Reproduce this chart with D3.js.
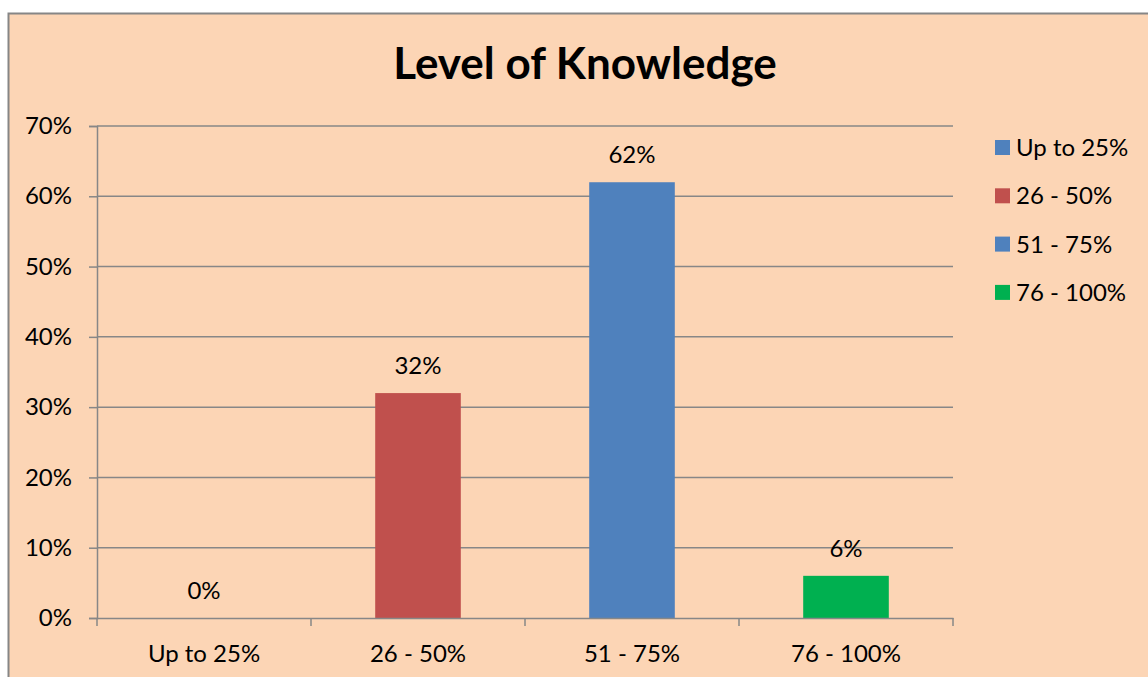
<!DOCTYPE html>
<html>
<head>
<meta charset="utf-8">
<script src="https://cdn.jsdelivr.net/npm/d3@7"></script>
<style>
  html, body { margin: 0; padding: 0; background: #ffffff; overflow: hidden; }
  svg { display: block; }
  text { font-family: Lato, "Open Sans", sans-serif; fill: #000; }
</style>
</head>
<body>
<svg id="chart" width="1148" height="677"></svg>
<script>
const categories = ["Up to 25%", "26 - 50%", "51 - 75%", "76 - 100%"];
const values = [0, 32, 62, 6];
const barColors = ["#4F81BD", "#C0504D", "#4F81BD", "#00B050"];
const yTicks = [0, 10, 20, 30, 40, 50, 60, 70];
const title = "Level of Knowledge";

const svg = d3.select("#chart");
const W = 1148, H = 677;

// chart area background + border
svg.append("rect")
  .attr("x", 8.5).attr("y", 13.5)
  .attr("width", W + 20).attr("height", H + 20)
  .attr("fill", "#FCD5B5")
  .attr("stroke", "#868686").attr("stroke-width", 2);

const plot = { left: 97, right: 953, top: 126, bottom: 618 };

const x = d3.scaleBand()
  .domain(categories)
  .range([plot.left, plot.right])
  .paddingInner(0.6)
  .paddingOuter(0.3);

const y = d3.scaleLinear()
  .domain([0, 70])
  .range([plot.bottom, plot.top]);

// gridlines
svg.append("g")
  .selectAll("line")
  .data(yTicks.filter(d => d > 0))
  .join("line")
  .attr("x1", plot.left).attr("x2", plot.right)
  .attr("y1", d => y(d)).attr("y2", d => y(d))
  .attr("stroke", "#878787").attr("stroke-width", 1.5);

// y axis
const yAxis = svg.append("g")
  .attr("transform", `translate(${plot.left},0)`)
  .call(d3.axisLeft(y).tickValues(yTicks).tickFormat(d => d + "%").tickSize(8).tickPadding(17));
yAxis.select(".domain").attr("stroke", "#878787").attr("stroke-width", 1.5);
yAxis.selectAll(".tick line").attr("stroke", "#878787").attr("stroke-width", 1.5);
yAxis.selectAll(".tick text")
  .style("font-family", "Lato, 'Open Sans', sans-serif")
  .style("font-size", "24px").attr("fill", "#000");

// bars
svg.append("g")
  .selectAll("rect")
  .data(values)
  .join("rect")
  .attr("x", (d, i) => x(categories[i]))
  .attr("y", d => y(d))
  .attr("width", x.bandwidth())
  .attr("height", d => y(0) - y(d))
  .attr("fill", (d, i) => barColors[i]);

// x axis
const xAxis = svg.append("g")
  .attr("transform", `translate(0,${plot.bottom})`)
  .call(d3.axisBottom(x).tickSize(0).tickPadding(27));
xAxis.select(".domain").attr("stroke", "#878787").attr("stroke-width", 1.5);
xAxis.selectAll(".tick text")
  .style("font-family", "Lato, 'Open Sans', sans-serif")
  .style("font-size", "24px").attr("fill", "#000");
// category boundary ticks
const bounds = d3.range(categories.length + 1).map(i => plot.left + i * x.step());
svg.append("g")
  .selectAll("line")
  .data(bounds)
  .join("line")
  .attr("x1", d => d).attr("x2", d => d)
  .attr("y1", plot.bottom).attr("y2", plot.bottom + 8)
  .attr("stroke", "#878787").attr("stroke-width", 1.5);

// data labels
svg.append("g")
  .selectAll("text")
  .data(values)
  .join("text")
  .attr("x", (d, i) => x(categories[i]) + x.bandwidth() / 2)
  .attr("y", d => y(d) - 19)
  .attr("text-anchor", "middle")
  .style("font-size", "24px")
  .text(d => d + "%");

// title
svg.append("text")
  .attr("x", 585).attr("y", 79)
  .attr("text-anchor", "middle")
  .style("font-size", "44px").style("font-weight", "bold")
  .text(title);

// legend
const legend = svg.append("g");
const rows = legend.selectAll("g")
  .data(categories)
  .join("g")
  .attr("transform", (d, i) => `translate(995,${140 + i * 48.3})`);
rows.append("rect")
  .attr("width", 15).attr("height", 15)
  .attr("fill", (d, i) => barColors[i]);
rows.append("text")
  .attr("x", 21).attr("y", 16)
  .style("font-size", "24px")
  .text(d => d);
</script>
</body>
</html>
